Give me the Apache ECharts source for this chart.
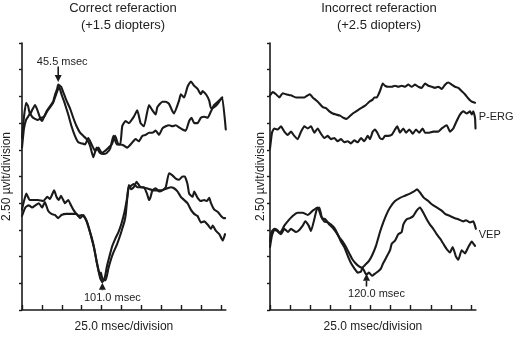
<!DOCTYPE html>
<html>
<head>
<meta charset="utf-8">
<script src="https://cdn.jsdelivr.net/npm/echarts/dist/echarts.min.js"></script>
<style>
  html, body { margin: 0; padding: 0; background: #ffffff; }
  #chart { width: 514px; height: 338px; }
</style>
</head>
<body>
<div id="chart"></div>
<script>
// Pattern ERG / VEP recordings, time in msec, amplitude in µV (2.5 µV per division)

// Panel titles and axis names
const panelTitles = ['Correct referaction\n(+1.5 diopters)', 'Incorrect referaction\n(+2.5 diopters)'];
const timeAxisName = '25.0 msec/division';
const ampAxisName = '2.50 \u00b5vlt/division';
const traceNames = ['P-ERG', 'VEP'];

// Time ticks, one per 25 msec division
const timeTicks = [0, 25, 50, 75, 100, 125, 150, 175, 200, 225, 250];

// Correct refraction, P-ERG (two runs)
const correctErgA = [[0,16.1],[2.5,18.1],[5.1,19.4],[7.6,19.1],[10.1,18.3],[12.6,18.7],[16.4,19.2],[18.9,18.8],[22.7,18.0],[25.3,17.7],[27.8,18.1],[31.6,18.7],[35.4,19.1],[39.1,19.5],[41.7,20.2],[44.2,20.7],[45.5,21.1],[49.2,20.9],[51.8,20.4],[55.9,19.6],[60.2,18.9],[64.4,18.0],[68.6,17.2],[72.9,16.6],[77.0,16.3],[81.2,16.0],[85.5,15.4],[89.6,14.3],[93.8,15.2],[98.1,14.7],[102.3,14.6],[106.4,14.7],[110.7,15.1],[114.9,16.3],[119.1,15.5],[123.4,15.5],[125.9,17.2],[130.0,17.7],[134.2,17.5],[140.5,18.1],[144.8,18.7],[149.0,17.5],[153.2,17.2],[159.5,19.2],[163.8,18.7],[167.9,18.3],[170.1,19.0],[176.4,19.5],[180.6,19.5],[184.7,19.3],[189.0,18.6],[191.0,18.4],[197.3,19.6],[199.5,20.2],[203.7,19.9],[207.9,20.9],[212.1,21.4],[216.3,21.0],[220.6,20.7],[224.7,20.2],[226.9,20.5],[231.1,20.2],[235.2,19.6],[237.4,18.9],[241.5,19.0],[245.8,19.3],[250.0,19.8],[251.6,19.9],[256.0,16.9]];
const correctErgB = [[0,15.2],[2.5,17.0],[5.1,17.8],[7.6,18.1],[10.1,18.4],[12.6,18.1],[16.4,17.9],[20.2,17.8],[24.0,18.0],[27.8,18.1],[31.6,18.6],[35.4,19.0],[39.1,19.4],[42.9,20.2],[46.7,20.9],[49.6,20.2],[53.9,19.3],[58.1,18.3],[62.2,17.2],[66.5,16.3],[70.7,15.7],[74.9,15.6],[79.2,15.5],[83.3,16.1],[87.5,15.5],[91.8,14.9],[96.0,15.2],[100.1,14.7],[104.4,14.9],[108.6,15.2],[112.7,15.5],[117.0,16.3],[121.2,15.5],[123.7,15.5],[127.9,15.4],[132.2,15.2],[136.4,15.5],[142.7,16.0],[146.8,15.8],[151.1,16.3],[155.3,16.4],[159.5,16.6],[163.8,16.6],[167.9,16.8],[172.1,16.4],[176.4,17.0],[180.6,17.2],[184.7,17.3],[189.0,17.2],[193.2,17.3],[197.3,17.1],[201.6,16.9],[205.8,16.8],[210.0,17.7],[213.0,18.0],[216.3,17.5],[220.6,17.5],[224.7,18.0],[228.9,18.1],[233.2,18.0],[237.4,18.6],[241.5,19.2],[245.8,19.5],[249.1,19.7],[251.6,19.9]];

// Correct refraction, VEP (two runs)
const correctVepA = [[0,9.4],[5.4,10.9],[9.7,10.3],[13.9,10.3],[20.2,10.3],[26.5,10.2],[31.9,10.6],[35.0,10.4],[40.4,11.2],[43.3,10.6],[46.3,10.3],[48.9,10.7],[51.8,10.3],[53.9,10.0],[58.1,10.3],[61.5,9.8],[64.4,9.4],[67.3,9.1],[70.7,8.8],[74.9,8.9],[78.3,8.7],[81.2,8.3],[84.2,7.6],[87.5,6.8],[90.9,5.7],[93.8,4.5],[96.0,3.8],[98.1,3.0],[100.1,2.7],[101.0,2.6],[104.2,3.1],[106.7,4.1],[109.8,5.0],[113.0,5.9],[117.4,6.7],[121.2,7.3],[125.0,8.1],[128.8,9.2],[132.2,10.6],[134.2,11.7],[137.2,11.3],[140.5,11.5],[143.9,12.0],[149.0,11.5],[153.2,11.5],[157.4,10.8],[159.5,10.3],[161.6,10.6],[163.8,11.2],[167.9,11.4],[172.1,11.1],[176.4,11.2],[180.6,11.5],[184.7,12.8],[189.0,12.6],[193.2,12.3],[197.3,12.2],[201.6,12.5],[204.5,12.5],[207.9,11.8],[210.0,10.9],[214.3,10.6],[216.3,11.1],[220.6,10.5],[224.7,10.2],[228.9,10.3],[232.3,10.2],[235.2,10.5],[237.4,10.0],[241.5,9.4],[245.8,9.2],[250.0,8.8],[253.2,8.6],[255.1,8.6]];
const correctVepB = [[0,8.8],[4.2,9.6],[8.5,9.8],[12.6,9.6],[16.8,9.8],[21.1,10.0],[25.3,9.6],[28.7,10.1],[32.8,9.3],[37.0,9.0],[41.3,8.9],[45.5,8.6],[49.6,8.9],[55.9,9.0],[62.2,9.0],[68.6,9.0],[72.9,8.6],[77.0,8.9],[80.8,8.4],[84.0,7.7],[87.1,6.8],[90.3,5.9],[93.4,4.7],[96.0,3.7],[97.9,3.2],[99.1,3.5],[101.0,2.9],[102.9,2.8],[105.2,2.8],[108.6,3.9],[112.0,4.8],[114.9,5.4],[119.1,6.1],[123.4,7.0],[126.3,7.7],[128.8,8.3],[130.4,9.0],[131.9,10.2],[133.8,11.4],[136.4,11.6],[140.5,11.8],[144.8,11.5],[149.0,11.5],[156.6,11.4],[165.8,11.2],[174.2,11.2],[182.7,11.4],[186.9,11.5],[191.0,11.4],[195.3,11.1],[199.5,10.6],[203.7,10.3],[207.9,10.0],[212.1,9.4],[216.3,9.0],[220.6,8.8],[224.7,8.2],[228.9,8.3],[233.2,8.0],[237.4,7.6],[239.6,7.9],[243.7,7.4],[247.9,7.1],[252.2,6.5],[255.1,7.1]];

// Incorrect refraction, P-ERG (two runs)
const incorrectErgA = [[0,20.1],[3.4,20.4],[7.5,20.2],[11.6,19.9],[15.8,20.3],[19.9,20.2],[26.1,20.1],[32.3,19.9],[38.6,19.9],[42.7,19.9],[46.9,20.1],[49.8,20.2],[53.1,19.9],[59.4,19.5],[65.6,19.0],[69.7,18.9],[73.8,18.6],[78.0,18.4],[82.1,18.3],[87.1,18.2],[91.2,18.0],[95.4,17.9],[98.6,18.1],[102.9,18.4],[107.0,18.6],[111.1,18.8],[115.3,19.0],[119.4,19.2],[123.5,19.5],[127.7,19.7],[129.7,19.9],[132.7,19.9],[136.8,20.5],[140.2,21.2],[143.0,21.0],[147.1,20.9],[151.4,20.9],[155.5,21.0],[159.6,20.9],[163.8,21.0],[167.9,20.9],[172.0,21.1],[176.2,20.9],[180.4,21.1],[184.5,20.9],[188.7,20.8],[192.8,21.2],[196.9,21.0],[201.1,20.9],[205.2,20.8],[209.3,20.9],[213.6,20.7],[217.7,21.1],[221.8,21.3],[226.0,21.1],[230.1,20.9],[234.2,20.8],[238.4,20.5],[242.5,20.2],[246.7,19.8],[250.9,19.5],[255.0,19.4]];
const incorrectErgB = [[0,15.1],[2.5,16.6],[5.3,17.0],[9.6,16.9],[13.7,17.2],[17.8,16.7],[22.0,16.4],[26.1,16.7],[30.2,16.3],[34.5,16.0],[38.6,16.7],[42.7,17.2],[46.9,17.0],[51.0,17.2],[55.1,16.6],[59.3,17.0],[63.4,16.5],[67.5,16.1],[71.8,16.3],[75.9,16.0],[80.0,16.1],[84.2,15.8],[88.3,16.0],[92.4,15.7],[96.6,15.8],[100.7,15.6],[104.9,15.9],[109.1,15.7],[113.2,16.1],[117.3,15.8],[121.5,16.3],[124.4,16.0],[127.7,16.7],[130.6,16.9],[133.5,16.6],[136.8,16.1],[140.2,16.0],[143.0,16.3],[147.1,16.3],[151.4,16.4],[155.5,16.9],[158.3,17.2],[161.7,16.6],[165.8,17.0],[169.2,16.6],[173.3,16.9],[177.5,16.5],[181.6,16.9],[185.7,16.6],[189.9,17.0],[192.8,16.6],[196.9,16.6],[203.1,16.7],[209.3,16.7],[213.6,17.0],[219.8,17.3],[223.9,16.7],[228.0,17.0],[232.2,17.7],[236.3,18.3],[240.4,18.6],[244.7,18.4],[248.8,18.6],[250.9,18.3],[252.9,18.6],[255.0,18.0],[255.6,17.0]];

// Incorrect refraction, VEP (two runs)
const incorrectVepA = [[0,6.4],[1.9,7.3],[5.3,7.6],[8.7,7.5],[12.4,7.2],[17.8,7.9],[22.0,8.3],[28.2,8.8],[34.5,9.1],[40.7,9.1],[46.9,8.9],[53.1,9.3],[59.3,9.6],[63.4,8.8],[67.5,8.3],[72.1,8.2],[75.9,8.0],[80.0,7.7],[84.2,7.1],[88.3,6.4],[92.4,5.9],[96.6,5.1],[100.7,4.4],[104.9,3.9],[109.1,3.5],[113.2,3.6],[115.3,4.0],[119.4,4.3],[123.1,4.6],[126.9,5.1],[131.8,6.0],[136.8,7.3],[140.9,8.2],[145.2,9.0],[149.3,9.6],[155.5,10.2],[161.7,10.5],[167.9,10.7],[174.1,10.9],[179.1,11.1],[182.8,11.3],[186.6,11.0],[191.5,10.5],[196.9,10.2],[201.1,9.9],[207.3,9.6],[213.6,9.3],[217.7,9.0],[223.9,8.8],[230.1,8.6],[234.2,8.5],[240.4,8.3],[243.8,8.4],[248.8,8.2],[252.9,8.3],[256.0,7.6]];
const incorrectVepB = [[0,5.9],[2.5,7.0],[5.3,7.5],[8.7,7.4],[13.7,7.1],[17.8,7.6],[22.4,7.3],[26.1,7.6],[32.3,7.3],[36.4,7.5],[40.7,7.9],[43.9,8.3],[48.1,7.9],[51.0,7.4],[55.1,8.5],[58.1,9.4],[61.3,9.6],[64.7,8.6],[68.8,8.5],[73.8,8.0],[78.0,7.7],[82.1,7.3],[86.2,6.8],[90.4,6.4],[94.5,5.9],[98.6,5.3],[102.0,4.8],[106.1,4.4],[110.3,4.1],[115.3,3.9],[116.9,3.7],[120.0,3.3],[123.1,3.5],[126.9,3.2],[130.6,3.4],[134.3,3.6],[138.1,3.9],[140.9,4.4],[145.2,5.0],[149.3,5.6],[151.4,6.2],[155.5,6.5],[159.6,7.1],[163.8,7.3],[165.8,8.0],[170.0,8.5],[174.1,8.6],[178.2,8.8],[182.4,9.3],[186.6,9.6],[190.7,9.1],[194.9,8.5],[199.0,8.0],[203.1,7.6],[207.3,7.1],[211.4,6.7],[215.6,6.2],[219.8,5.7],[223.9,5.4],[227.2,5.9],[231.3,5.0],[234.2,4.7],[238.4,5.6],[242.5,5.3],[246.7,5.9],[250.9,6.4],[255.0,6.0]];

// Latency markers: panel, time (msec), arrow tip / tail amplitude (µV), caption
const latencyPanels = [0, 0, 1];
const latencyTimes = [45.5, 101.0, 120.0];
const latencyTips = [21.35, 2.55, 3.4];
const latencyTails = [22.8, 1.85, 2.2];
const latencyCaptions = ['45.5 msec', '101.0 msec', '120.0 msec'];

// Trace-group labels on the right panel: time (msec), amplitude (µV)
const groupLabelTimes = [259.6, 259.6];
const groupLabelAmps = [18.1, 7.0];

const INK = '#1a1a1a';
const FONT = '"Liberation Sans", Arial, Helvetica, sans-serif';
const TIME_MAX = 256;   // recordings run a little past the last division

const chart = echarts.init(document.getElementById('chart'), null, { renderer: 'canvas' });

const grids = [
  { left: 22, top: 43, width: 199 * TIME_MAX / 250, height: 273 },
  { left: 270, top: 43, width: 201 * TIME_MAX / 250, height: 273 }
];

function timeAxis(gridIndex) {
  return {
    type: 'value', gridIndex, min: 0, max: TIME_MAX, interval: 25,
    name: timeAxisName, nameLocation: 'middle', nameGap: 11,
    nameTextStyle: { fontFamily: FONT, fontSize: 12, color: '#222' },
    axisLine: { lineStyle: { color: INK, width: 1.6 } },
    axisTick: { inside: true, length: 5, customValues: timeTicks, lineStyle: { color: INK, width: 1.4 } },
    axisLabel: { show: false },
    splitLine: { show: false }
  };
}
function ampAxis(gridIndex, gap) {
  return {
    type: 'value', gridIndex, min: 0, max: 25, interval: 2.5,
    name: ampAxisName, nameLocation: 'middle', nameGap: gap,
    nameTextStyle: { fontFamily: FONT, fontSize: 12, color: '#222' },
    axisLine: { lineStyle: { color: INK, width: 1.6 } },
    axisTick: { inside: false, length: 3, lineStyle: { color: INK, width: 1.4 } },
    axisLabel: { show: false },
    splitLine: { show: false }
  };
}
function trace(data, panel) {
  return {
    type: 'line', data, xAxisIndex: panel, yAxisIndex: panel,
    showSymbol: false, symbol: 'none', clip: false, silent: true,
    smooth: 0.15,
    lineStyle: { color: INK, width: 2.1, join: 'round', cap: 'round' }
  };
}

chart.setOption({
  animation: false,
  backgroundColor: '#ffffff',
  title: panelTitles.map((t, i) => ({
    text: t, left: i === 0 ? 123 : 379, top: 0, textAlign: 'center', padding: 0,
    textStyle: { fontFamily: FONT, fontSize: 13, fontWeight: 'normal', color: '#222', lineHeight: 17 }
  })),
  grid: grids,
  xAxis: [timeAxis(0), timeAxis(1)],
  yAxis: [ampAxis(0, 9), ampAxis(1, 3)],
  series: [
    trace(correctErgA, 0), trace(correctErgB, 0),
    trace(correctVepA, 0), trace(correctVepB, 0),
    trace(incorrectErgA, 1), trace(incorrectErgB, 1),
    trace(incorrectVepA, 1), trace(incorrectVepB, 1)
  ]
});

// Latency arrows and captions, placed through the panel scales
const marks = [];
latencyTimes.forEach((ms, i) => {
  const panel = latencyPanels[i];
  const tip = chart.convertToPixel({ gridIndex: panel }, [ms, latencyTips[i]]);
  const tail = chart.convertToPixel({ gridIndex: panel }, [ms, latencyTails[i]]);
  const dir = tip[1] > tail[1] ? 1 : -1;   // 1 = pointing down
  const headLen = 7, headHalf = 3.5;
  const baseY = tip[1] - dir * headLen;
  marks.push({
    type: 'line', silent: true,
    shape: { x1: tail[0], y1: tail[1], x2: tip[0], y2: baseY },
    style: { stroke: INK, lineWidth: 1.6 }
  });
  marks.push({
    type: 'polygon', silent: true,
    shape: { points: [[tip[0], tip[1]], [tip[0] - headHalf, baseY], [tip[0] + headHalf, baseY]] },
    style: { fill: INK }
  });
  marks.push({
    type: 'text', silent: true,
    x: tail[0] + (dir === 1 ? 4 : 10),
    y: dir === 1 ? tail[1] + 1 : tail[1] + 2,
    style: {
      text: latencyCaptions[i], font: '11px ' + FONT, fill: '#222',
      align: 'center', verticalAlign: dir === 1 ? 'bottom' : 'top'
    }
  });
});
traceNames.forEach((name, i) => {
  const p = chart.convertToPixel({ gridIndex: 1 }, [groupLabelTimes[i], groupLabelAmps[i]]);
  marks.push({
    type: 'text', silent: true, x: p[0], y: p[1],
    style: { text: name, font: '11px ' + FONT, fill: '#222', align: 'left', verticalAlign: 'middle' }
  });
});
chart.setOption({ graphic: marks });
</script>
</body>
</html>
